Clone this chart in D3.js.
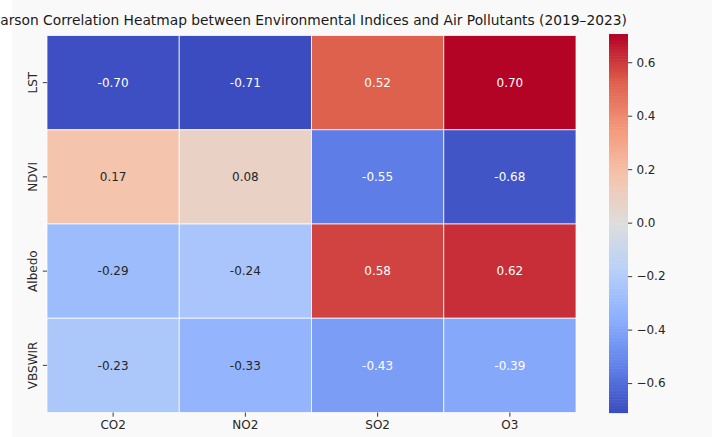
<!DOCTYPE html>
<html>
<head>
<meta charset="utf-8">
<script src="https://cdn.jsdelivr.net/npm/d3@7"></script>
<style>
  body { margin: 0; background: #ffffff; }
  text { font-family: "DejaVu Sans", sans-serif; }
</style>
</head>
<body>
<div id="heatmap"></div>
<script>
// Chart data
var rowLabels = ["LST", "NDVI", "Albedo", "VBSWIR"];
var colLabels = ["CO2", "NO2", "SO2", "O3"];
var lstValues = [-0.70, -0.71, 0.52, 0.70];
var ndviValues = [0.17, 0.08, -0.55, -0.68];
var albedoValues = [-0.29, -0.24, 0.58, 0.62];
var vbswirValues = [-0.23, -0.33, -0.43, -0.39];
var colorbarTicks = [-0.6, -0.4, -0.2, 0.0, 0.2, 0.4, 0.6];
var titleText = "Pearson Correlation Heatmap between Environmental Indices and Air Pollutants (2019\u20132023)";

var rowValues = [lstValues, ndviValues, albedoValues, vbswirValues];

// SVG dimensions
var svgWidth = 712;
var svgHeight = 437;

// heatmap area
var margin = { top: 35.5, left: 47, right: 136, bottom: 24.5 };
var width = svgWidth - margin.left - margin.right;
var height = svgHeight - margin.top - margin.bottom;

var svg = d3.select("#heatmap")
  .append("svg")
  .attr("width", svgWidth)
  .attr("height", svgHeight);

// light page background, white strip on the left
svg.append("rect")
  .attr("x", 12)
  .attr("y", 0)
  .attr("width", svgWidth - 12)
  .attr("height", svgHeight)
  .attr("fill", "#f9f9f9");

// flatten data into cells
var cells = [];
rowValues.forEach(function(vals, i) {
  vals.forEach(function(v, j) {
    cells.push({ row: rowLabels[i], col: colLabels[j], value: v });
  });
});

var vmin = d3.min(cells, d => d.value);
var vmax = d3.max(cells, d => d.value);

// coolwarm colormap
var coolwarm = d3.piecewise(d3.interpolateRgb, [
  "rgb(59,76,192)", "rgb(98,130,234)", "rgb(141,176,254)", "rgb(184,208,249)",
  "rgb(221,221,221)", "rgb(245,196,173)", "rgb(244,154,123)", "rgb(222,96,77)",
  "rgb(180,4,38)"
]);
var color = d3.scaleSequential(coolwarm).domain([vmin, vmax]).clamp(true);

// pick annotation colour from luminance, like seaborn
function textColor(c) {
  var rgb = d3.rgb(c);
  var lin = [rgb.r, rgb.g, rgb.b].map(function(x) {
    x = x / 255;
    return x <= 0.03928 ? x / 12.92 : Math.pow((x + 0.055) / 1.055, 2.4);
  });
  var lum = 0.2126 * lin[0] + 0.7152 * lin[1] + 0.0722 * lin[2];
  return lum > 0.408 ? "#262626" : "#ffffff";
}

var chartGroup = svg.append("g")
  .attr("transform", `translate(${margin.left}, ${margin.top})`);

var xScale = d3.scaleBand().domain(colLabels).range([0, width]);
var yScale = d3.scaleBand().domain(rowLabels).range([0, height]);

// cells
chartGroup.selectAll(".cell")
  .data(cells)
  .enter()
  .append("rect")
  .attr("class", "cell")
  .attr("x", d => xScale(d.col))
  .attr("y", d => yScale(d.row))
  .attr("width", xScale.bandwidth())
  .attr("height", yScale.bandwidth())
  .attr("fill", d => color(d.value))
  .attr("stroke", "rgba(255,255,255,0.75)")
  .attr("stroke-width", 1);

// annotations (plain hyphen for negatives, as in the original)
chartGroup.selectAll(".annot")
  .data(cells)
  .enter()
  .append("text")
  .attr("class", "annot")
  .attr("x", d => xScale(d.col) + xScale.bandwidth() / 2)
  .attr("y", d => yScale(d.row) + yScale.bandwidth() / 2)
  .attr("dy", "0.35em")
  .attr("text-anchor", "middle")
  .attr("font-size", "12px")
  .attr("fill", d => textColor(color(d.value)))
  .text(d => d.value.toFixed(2));

// x axis
var xAxis = chartGroup.append("g")
  .attr("transform", `translate(0, ${height})`)
  .call(d3.axisBottom(xScale).tickSize(4.2).tickPadding(4.2));

// y axis
var yAxis = chartGroup.append("g")
  .call(d3.axisLeft(yScale).tickSize(4.2).tickPadding(4.2));

[xAxis, yAxis].forEach(function(ax) {
  ax.select(".domain").remove();
  ax.selectAll("line").attr("stroke", "#262626").attr("stroke-width", 0.9);
  ax.selectAll("text")
    .attr("font-size", "12px")
    .attr("fill", "#262626")
    .attr("font-family", "DejaVu Sans, sans-serif");
});

// rotate y labels
yAxis.selectAll("text")
  .attr("transform", "rotate(-90)")
  .attr("x", 0)
  .attr("y", -10.5)
  .attr("dy", "0em")
  .attr("text-anchor", "middle");

// colorbar
var cbX = 609;
var cbWidth = 19;
var cbScale = d3.scaleLinear()
  .domain([vmin, vmax])
  .range([margin.top + height, margin.top]);

var cbSteps = d3.range(0, 256).map(i => vmin + (vmax - vmin) * i / 255);
var stepH = height / 256;

svg.append("g")
  .selectAll("rect")
  .data(cbSteps)
  .enter()
  .append("rect")
  .attr("x", cbX)
  .attr("y", d => cbScale(d) - stepH)
  .attr("width", cbWidth)
  .attr("height", stepH + 0.6)
  .attr("fill", d => color(d));

var cbAxis = svg.append("g")
  .attr("transform", `translate(${cbX + cbWidth}, 0)`)
  .call(d3.axisRight(cbScale)
    .tickValues(colorbarTicks)
    .tickSize(4.2)
    .tickPadding(4.2)
    .tickFormat(d => d3.format(".1f")(d)));

cbAxis.select(".domain").remove();
cbAxis.selectAll("line").attr("stroke", "#262626").attr("stroke-width", 0.9);
cbAxis.selectAll("text")
  .attr("font-size", "12px")
  .attr("fill", "#262626")
  .attr("font-family", "DejaVu Sans, sans-serif");

// title, clipped on the left like the original
svg.append("text")
  .attr("x", 627)
  .attr("y", 25)
  .attr("text-anchor", "end")
  .attr("font-size", "13.8px")
  .attr("fill", "#1a1a1a")
  .text(titleText);
</script>
</body>
</html>
